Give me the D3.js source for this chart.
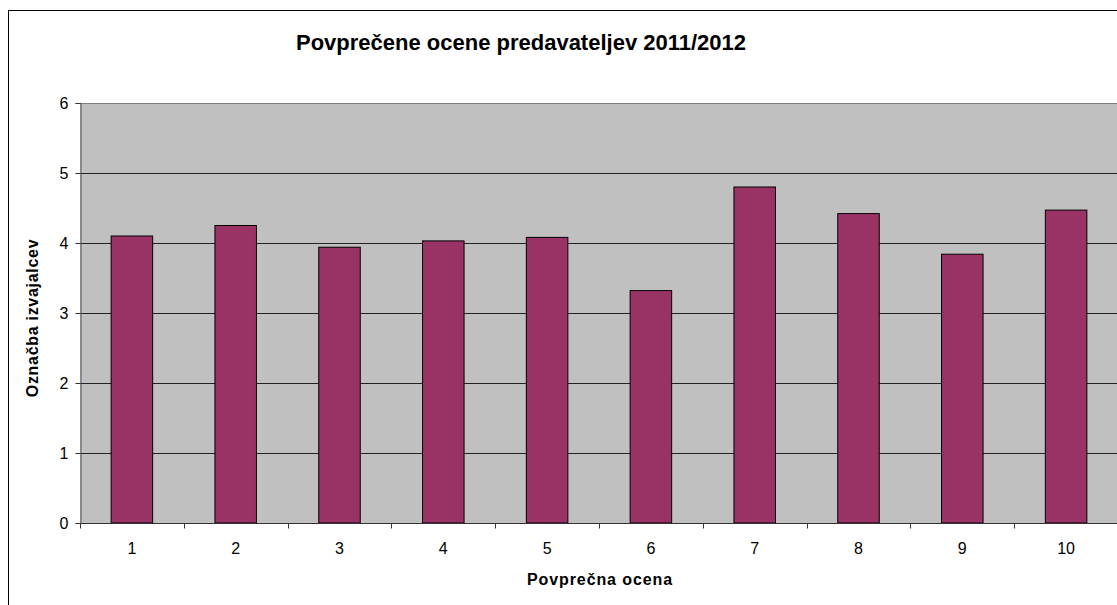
<!DOCTYPE html>
<html>
<head>
<meta charset="utf-8">
<script src="https://cdn.jsdelivr.net/npm/d3@7"></script>
<style>
  body { margin: 0; background: #fff; }
  text { font-family: "Liberation Sans", Arial, sans-serif; }
</style>
</head>
<body>
<div id="bar_chart"></div>
<script>
var categories = ["1", "2", "3", "4", "5", "6", "7", "8", "9", "10"];
var values = [4.10, 4.25, 3.94, 4.03, 4.08, 3.32, 4.80, 4.42, 3.84, 4.47];
var yTicks = [0, 1, 2, 3, 4, 5, 6];

var w = 1117, h = 605;
// plot area bounds ("top" is reserved on window, so use a prefix)
var pLeft = 80, pRight = 1118, pTop = 103, pBottom = 523;

var svg = d3.select("#bar_chart")
    .append("svg")
    .attr("width", w)
    .attr("height", h);

// chart border (cut off on right/bottom like the screenshot)
svg.append("rect")
    .attr("x", 8.5).attr("y", 10.5)
    .attr("width", w + 20).attr("height", h + 20)
    .attr("fill", "none").attr("stroke", "#000").attr("stroke-width", 1);

var x = d3.scaleBand()
    .domain(categories)
    .range([pLeft, pRight])
    .paddingInner(0.6)
    .paddingOuter(0.3);

var xEdges = d3.scaleLinear().domain([0, categories.length]).range([pLeft, pRight]);

var y = d3.scaleLinear().domain([0, 6]).range([pBottom, pTop]);

// plot area
svg.append("rect")
    .attr("x", pLeft).attr("y", pTop)
    .attr("width", pRight - pLeft).attr("height", pBottom - pTop)
    .attr("fill", "#c0c0c0");

// gridlines
svg.selectAll("line.grid")
    .data(yTicks.filter(function (d) { return d > 0; }))
    .enter()
    .append("line")
    .attr("x1", pLeft).attr("x2", pRight)
    .attr("y1", function (d) { return Math.round(y(d)) + 0.5; })
    .attr("y2", function (d) { return Math.round(y(d)) + 0.5; })
    .attr("stroke", function (d) { return d === 6 ? "#808080" : "#222"; })
    .attr("stroke-width", 1);

// bars
svg.selectAll("rect.bar")
    .data(values)
    .enter()
    .append("rect")
    .attr("x", function (d, i) { return x(categories[i]); })
    .attr("y", function (d) { return y(d); })
    .attr("width", x.bandwidth())
    .attr("height", function (d) { return pBottom - y(d); })
    .attr("fill", "#993366")
    .attr("stroke", "#000")
    .attr("stroke-width", 1);

// y axis
var yAxis = d3.axisLeft(y).tickValues(yTicks).tickSize(5).tickPadding(7).tickFormat(d3.format("d"));
var gy = svg.append("g").attr("transform", "translate(" + (pLeft + 0.5) + ",0)").call(yAxis);
gy.select(".domain").attr("stroke", "#555");
gy.selectAll(".tick line").attr("stroke", "#333");
gy.selectAll(".tick text").style("font-size", "16px").attr("fill", "#000");

// x axis
var gx = svg.append("g").attr("transform", "translate(0," + (pBottom + 0.5) + ")");
gx.append("line")
    .attr("x1", pLeft).attr("x2", pRight)
    .attr("stroke", "#333");
gx.selectAll("line.tick")
    .data(d3.range(categories.length + 1))
    .enter()
    .append("line")
    .attr("x1", function (d) { return Math.round(xEdges(d)) + 0.5; })
    .attr("x2", function (d) { return Math.round(xEdges(d)) + 0.5; })
    .attr("y1", 0).attr("y2", 5)
    .attr("stroke", "#333");
gx.selectAll("text")
    .data(categories)
    .enter()
    .append("text")
    .attr("x", function (d) { return x(d) + x.bandwidth() / 2; })
    .attr("y", 30)
    .attr("text-anchor", "middle")
    .style("font-size", "16px")
    .text(function (d) { return d; });

// titles
svg.append("text")
    .attr("x", 521).attr("y", 50)
    .attr("text-anchor", "middle")
    .style("font-size", "22px").style("font-weight", "bold")
    .text("Povprečene ocene predavateljev 2011/2012");

svg.append("text")
    .attr("x", 600).attr("y", 585)
    .attr("text-anchor", "middle")
    .style("font-size", "16px").style("font-weight", "bold")
    .style("letter-spacing", "0.9px")
    .text("Povprečna ocena");

svg.append("text")
    .attr("transform", "translate(38,318) rotate(-90)")
    .attr("text-anchor", "middle")
    .style("font-size", "16px").style("font-weight", "bold")
    .style("letter-spacing", "0.7px")
    .text("Označba izvajalcev");
</script>
</body>
</html>
